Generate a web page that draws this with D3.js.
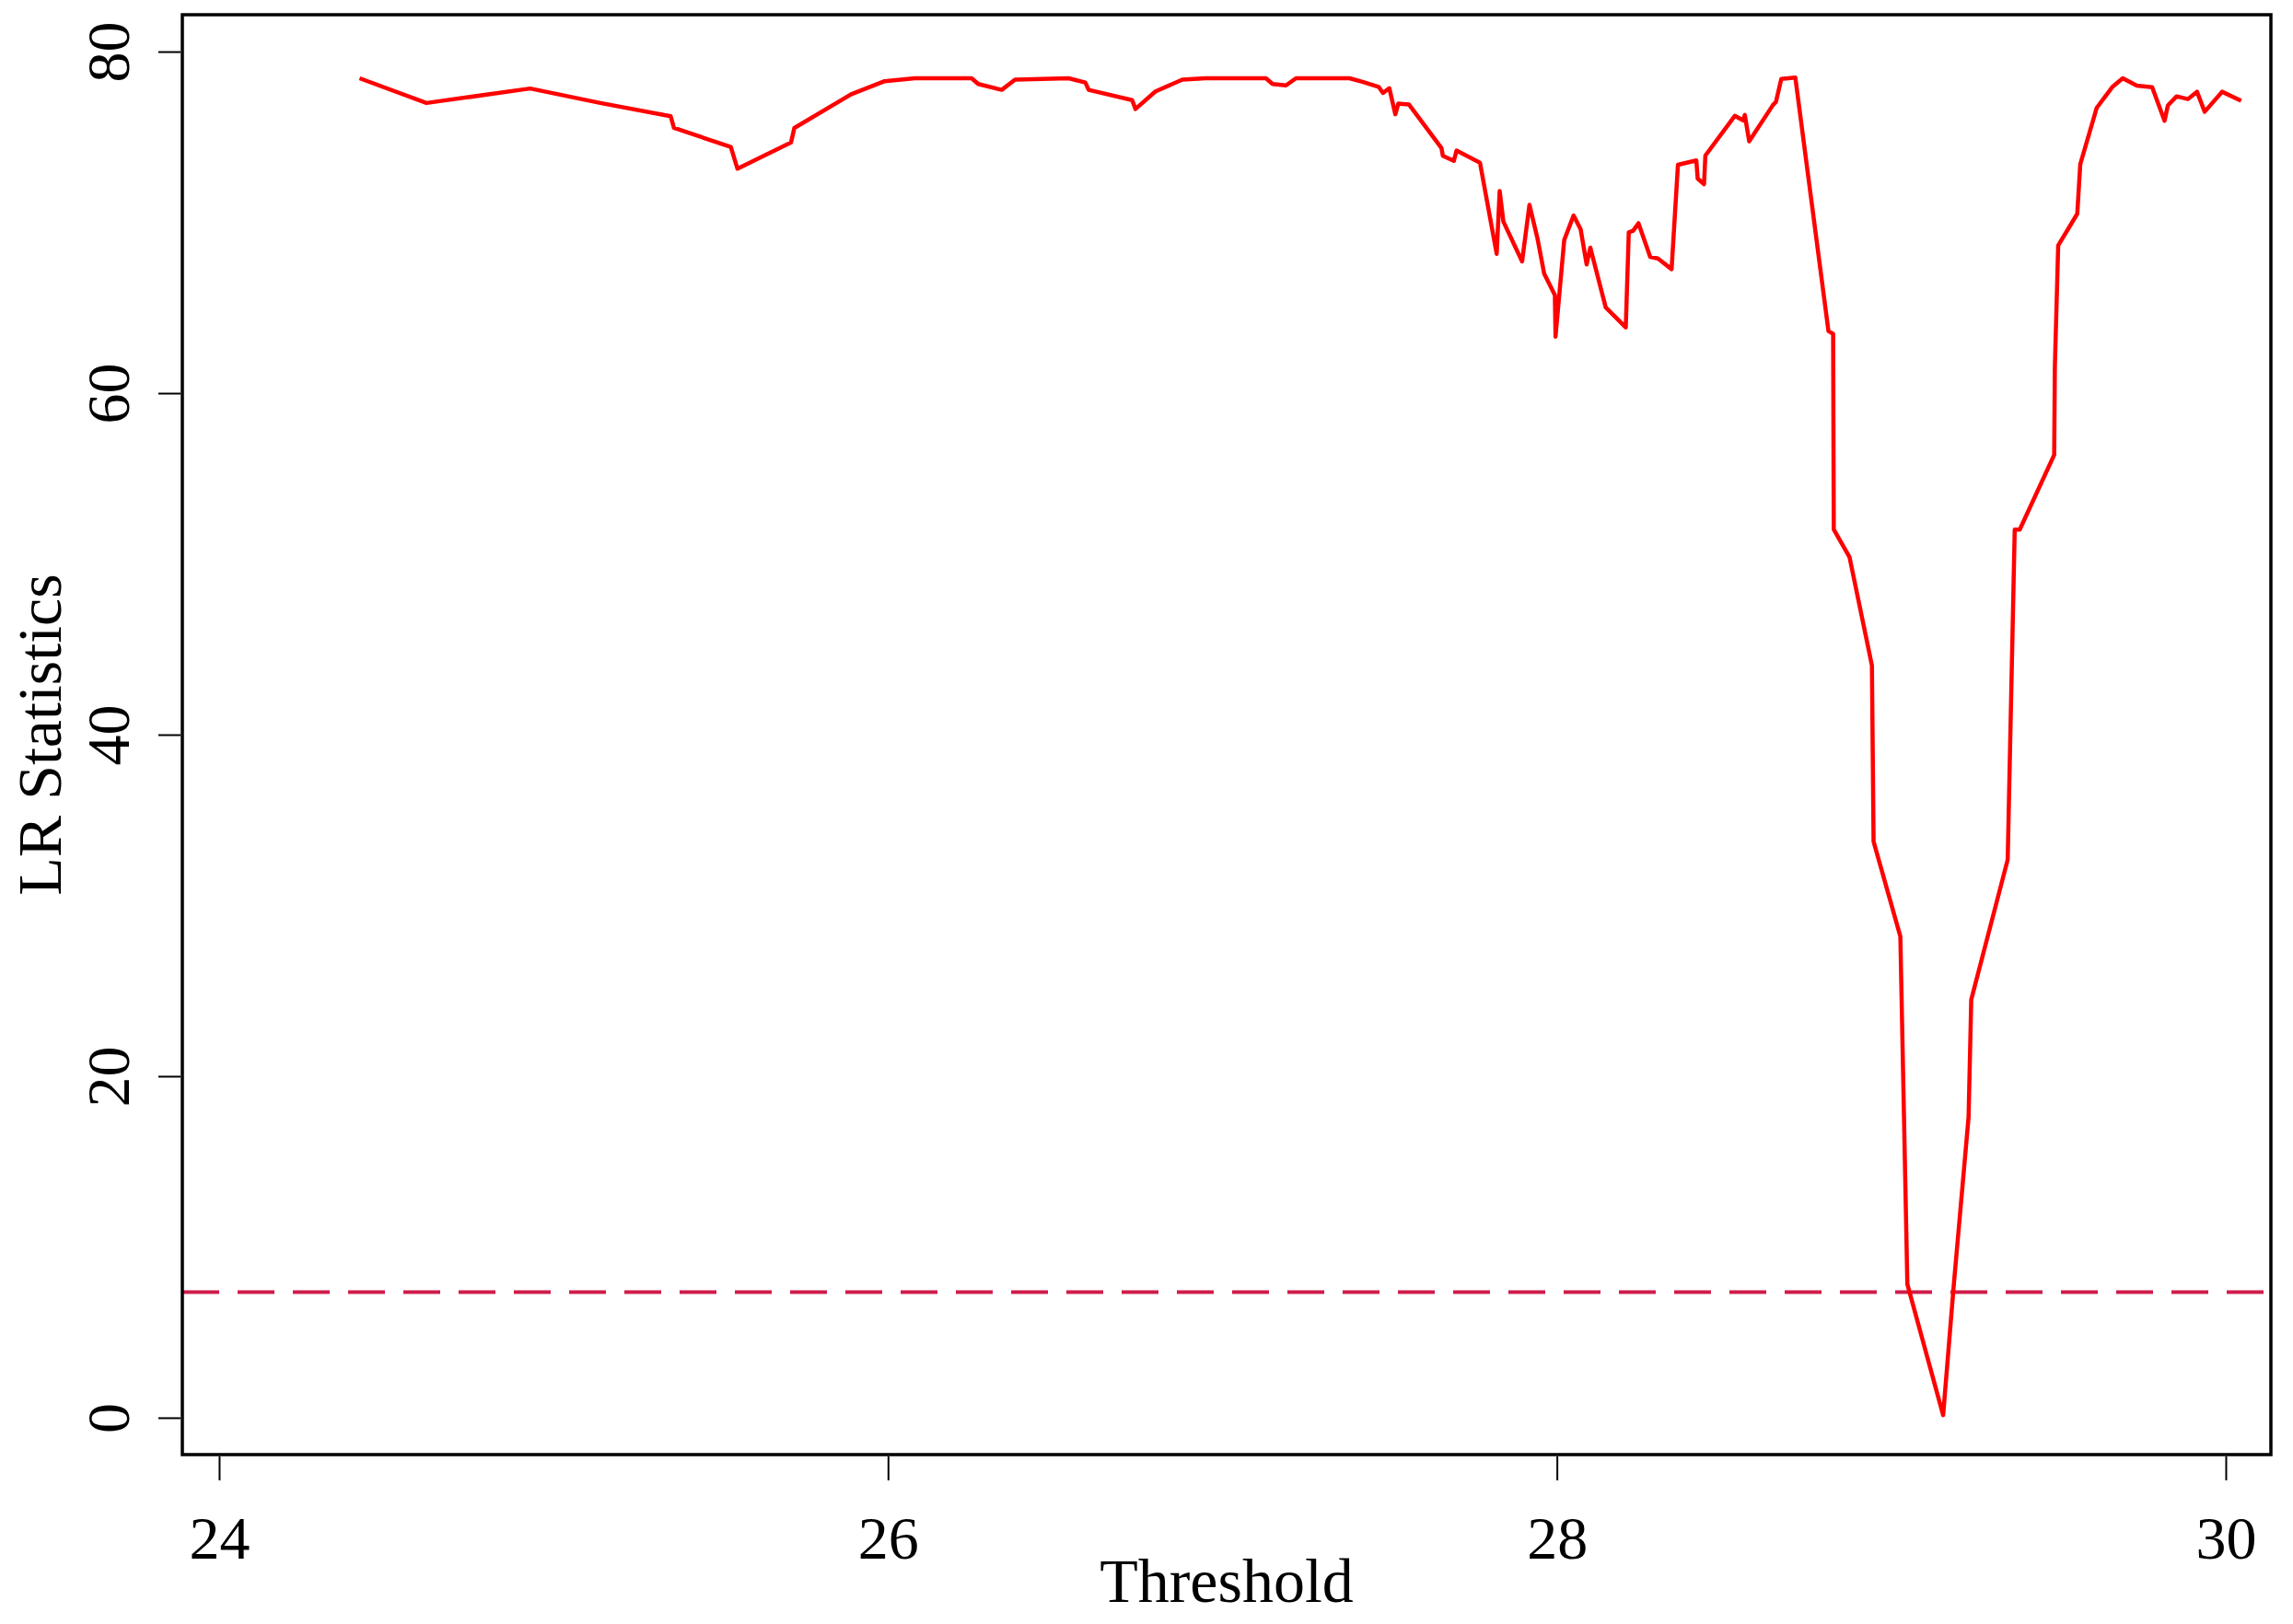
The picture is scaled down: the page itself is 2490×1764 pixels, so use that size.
<!DOCTYPE html>
<html><head><meta charset="utf-8">
<script src="https://cdn.jsdelivr.net/npm/d3@7"></script>
<style>body{margin:0;background:#fff}svg{display:block}</style>
</head><body>
<script>
const thresholds = [24.42,24.62,24.93,25.14,25.35,25.36,25.53,25.55,25.71,25.72,25.89,25.99,26.08,26.25,26.27,26.34,26.38,26.54,26.59,26.60,26.73,26.74,26.80,26.88,26.95,27.13,27.15,27.19,27.22,27.38,
27.421,27.467,27.480,27.499,27.517,27.526,27.558,27.655,27.659,27.692,27.700,27.770,27.820,27.829,27.840,27.896,27.918,27.942,27.962,27.994,27.996,28.022,28.050,28.071,28.089,28.100,28.146,28.206,28.215,28.228,28.244,28.279,28.302,28.343,28.362,28.417,28.421,28.440,28.444,28.532,28.557,28.562,28.575,28.646,28.655,28.671,28.713,
28.812,28.826,28.828,28.875,28.942,28.947,29.027,29.048,29.155,29.187,29.231,29.239,29.348,29.369,29.384,29.487,29.489,29.499,29.556,29.565,29.614,29.660,29.692,29.734,29.780,29.817,29.827,29.853,29.887,29.914,29.937,29.989,30.046];
const lrStats = [78.44,76.99,77.84,76.99,76.22,75.53,74.42,73.14,74.68,75.53,77.50,78.27,78.44,78.44,78.10,77.76,78.36,78.44,78.19,77.76,77.16,76.64,77.67,78.36,78.44,78.44,78.10,78.02,78.44,78.44,
78.22,77.94,77.58,77.86,76.33,76.96,76.90,74.35,73.90,73.60,74.21,73.50,68.16,71.84,70.05,67.71,71.03,69.06,67.00,65.74,63.31,68.97,70.40,69.60,67.54,68.52,65.02,63.85,69.42,69.51,69.95,67.98,67.89,67.26,73.37,73.63,72.56,72.24,73.91,76.24,75.97,76.29,74.75,76.87,77.05,78.40,78.48,
63.64,63.47,52.01,50.40,44.05,33.74,28.19,7.82,0.15,7.82,17.60,24.48,32.68,52.01,52.01,56.38,61.51,68.65,70.50,73.41,76.70,77.91,78.44,78.01,77.91,75.95,76.85,77.38,77.22,77.65,76.48,77.65,77.12];
const criticalValue = 7.36;
const xTicks = [24,26,28,30];
const yTicks = [0,20,40,60,80];

const W=2490,H=1764, L=198,R=2466,T=16,B=1580;
const svg=d3.select("body").append("svg").attr("width",W).attr("height",H);
const x=d3.scaleLinear().domain([23.89,30.135]).range([L,R]);
const y=d3.scaleLinear().domain([-2.16,82.16]).range([B,T]);
const font="'Liberation Serif', serif";

svg.append("line").attr("x1",L).attr("x2",R).attr("y1",y(criticalValue)).attr("y2",y(criticalValue))
  .attr("stroke","#d01c4b").attr("stroke-width",4).attr("stroke-dasharray","40,20");

const pts=thresholds.map((t,i)=>[t,lrStats[i]]);
svg.append("path").datum(pts).attr("fill","none").attr("stroke","#ff0000").attr("stroke-width",4.5)
  .attr("stroke-linejoin","round").attr("d",d3.line().x(d=>x(d[0])).y(d=>y(d[1])));

svg.append("rect").attr("x",L).attr("y",T).attr("width",R-L).attr("height",B-T)
  .attr("fill","none").attr("stroke","#000").attr("stroke-width",3.5);

const xa=svg.append("g").attr("transform",`translate(0,${B+2})`)
  .call(d3.axisBottom(x).tickValues(xTicks).tickSize(26).tickPadding(38).tickFormat(d3.format("d")));
xa.select(".domain").remove();
xa.selectAll("line").attr("stroke-width",2);
xa.selectAll("text").attr("font-family",font).attr("font-size",66).attr("fill","#000");

const ya=svg.append("g").attr("transform",`translate(${L-2},0)`)
  .call(d3.axisLeft(y).tickValues(yTicks).tickSize(24).tickFormat(d3.format("d")));
ya.select(".domain").remove();
ya.selectAll("line").attr("stroke-width",2);
ya.selectAll("text").attr("font-family",font).attr("font-size",66).attr("fill","#000")
  .attr("text-anchor","middle").attr("x",null).attr("dy",null)
  .attr("transform","translate(-78,0) rotate(-90)").attr("dominant-baseline","auto").attr("y",22);

svg.append("text").attr("x",(L+R)/2).attr("y",1740).attr("text-anchor","middle")
  .attr("font-family",font).attr("font-size",68).text("Threshold");
svg.append("text").attr("transform",`translate(66,${(T+B)/2}) rotate(-90)`).attr("text-anchor","middle")
  .attr("font-family",font).attr("font-size",68).text("LR Statistics");
</script>
</body></html>
